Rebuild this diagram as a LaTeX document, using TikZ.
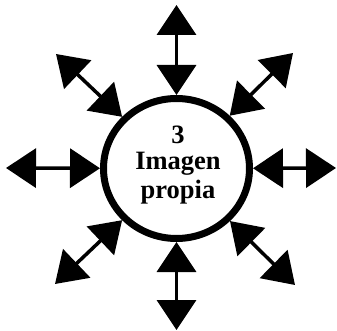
\documentclass[tikz,border=0pt]{standalone}
\usepackage{fontspec}
\setmainfont{Liberation Serif}
\usetikzlibrary{arrows.meta,shapes.geometric}
\begin{document}
\begin{tikzpicture}[x=1pt,y=-1pt,
  ring/.style={ellipse,draw,line width=7pt,minimum width=146pt,minimum height=140pt,inner sep=0pt},
  tri/.tip={Triangle[length=30pt,width=39pt]},
  dbl/.style={line width=3.5pt,tri-tri},
  lbl/.style={font=\fontsize{26.5}{27}\selectfont\bfseries,anchor=base,inner sep=0pt}]
\useasboundingbox (0,0) rectangle (337,331);
\node[ring] (c) at (176.5,168.5) {};
\node[lbl] (n3) at (178,144) {3};
\node[lbl] (img) at (178,170) {Imagen};
\node[lbl] (prop) at (178,198) {propia};
\coordinate (N) at (176.5,5);
\coordinate (S) at (176.5,330);
\coordinate (W) at (6,168);
\coordinate (E) at (336,168);
\coordinate (NW) at (56,54);
\coordinate (NE) at (293,53);
\coordinate (SW) at (55,284);
\coordinate (SE) at (295,285);
\foreach \p in {N,S,W,E,NW,NE,SW,SE}
  \draw[dbl] (c) -- (\p);
\end{tikzpicture}
\end{document}
